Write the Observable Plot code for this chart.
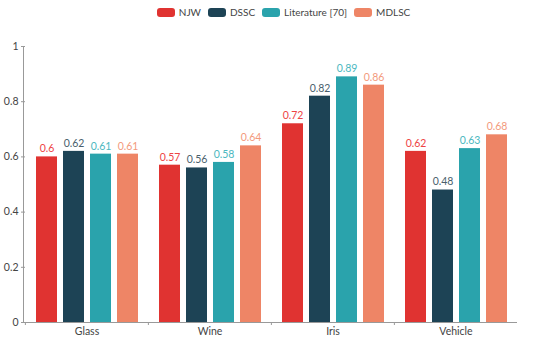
<!DOCTYPE html>
<html>
<head>
<meta charset="utf-8">
<script src="https://cdn.jsdelivr.net/npm/d3@7"></script>
<script src="https://cdn.jsdelivr.net/npm/@observablehq/plot@0.6"></script>
<style>
  body { margin: 0; background: #fff; font-family: Lato, sans-serif; }
  #legend { height: 28px; display: flex; justify-content: center; align-items: flex-start; padding-top: 7px; padding-left: 16px; box-sizing: border-box; font-size: 10px; line-height: 10px; color: #444; }
  .item { display: flex; align-items: center; margin: 0 3px 0 4px; }
  .sw { width: 18px; height: 9px; border-radius: 3px; margin-right: 4px; }
</style>
</head>
<body>
<div id="legend"></div>
<div id="chart"></div>
<script>
const datasets = ["Glass", "Wine", "Iris", "Vehicle"];
const methods = ["NJW", "DSSC", "Literature [70]", "MDLSC"];
const NJW = [0.60, 0.57, 0.72, 0.62];
const DSSC = [0.62, 0.56, 0.82, 0.48];
const LIT70 = [0.61, 0.58, 0.89, 0.63];
const MDLSC = [0.61, 0.64, 0.86, 0.68];
const yTicks = [0, 0.2, 0.4, 0.6, 0.8, 1];

const barColors = ["#e03331", "#1d4355", "#2aa3ac", "#ee8566"];
const labelColors = ["#ee4444", "#4a5f6c", "#4cb8c0", "#f39a7c"];

const series = [NJW, DSSC, LIT70, MDLSC];
const data = [];
datasets.forEach((ds, i) => methods.forEach((m, j) => data.push({dataset: ds, method: m, value: series[j][i]})));

// legend
const legend = document.getElementById("legend");
methods.forEach((m, j) => {
  const it = document.createElement("div"); it.className = "item";
  const sw = document.createElement("div"); sw.className = "sw"; sw.style.background = barColors[j];
  const tx = document.createElement("span"); tx.textContent = m;
  it.appendChild(sw); it.appendChild(tx); legend.appendChild(it);
});

const W = 550, ML = 24, MR = 33;
const facetW = (W - ML - MR) / datasets.length;
const fmt = d => String(+d.toFixed(2));

const labelMarks = methods.map((m, j) =>
  Plot.text(data.filter(d => d.method === m), {
    fx: "dataset", x: "method", y: "value", text: d => fmt(d.value),
    dy: -8, fill: labelColors[j], fontSize: 10.5
  })
);

const chart = Plot.plot({
  width: W, height: 314,
  marginLeft: ML, marginRight: MR, marginTop: 18, marginBottom: 20,
  style: { fontFamily: "Lato, sans-serif", fontSize: "10.5px", color: "#444", background: "#fff" },
  fx: { domain: datasets, padding: 0, axis: null },
  x: { domain: methods, paddingInner: 0.24, paddingOuter: 0.36, axis: null },
  y: { domain: [0, 1], axis: null },
  color: { domain: methods, range: barColors },
  marks: [
    Plot.barY(data, { fx: "dataset", x: "method", y: "value", fill: "method" }),
    ...labelMarks,
    Plot.ruleY([0], { stroke: "#999", strokeWidth: 1 }),
    Plot.axisY({ ticks: yTicks, tickFormat: d => String(+d.toFixed(1)), tickSize: 4, tickPadding: 3, stroke: "#999", fill: "#444", fontSize: 10.5, label: null }),
    Plot.axisFx({ anchor: "bottom", tickSize: 0, tickPadding: 5, fill: "#444", fontSize: 10.5, label: null }),
    Plot.axisFx({ anchor: "bottom", tickSize: 3, tickFormat: () => "", dx: -facetW / 2, stroke: "#999", label: null })
  ]
});
document.getElementById("chart").appendChild(chart);

// y axis line along the left edge, positioned with the plot's own y scale
const yS = chart.scale("y");
d3.select(chart).append("line")
  .attr("x1", ML - 0.5).attr("x2", ML - 0.5)
  .attr("y1", yS.apply(1)).attr("y2", yS.apply(0))
  .attr("stroke", "#999");
</script>
</body>
</html>
